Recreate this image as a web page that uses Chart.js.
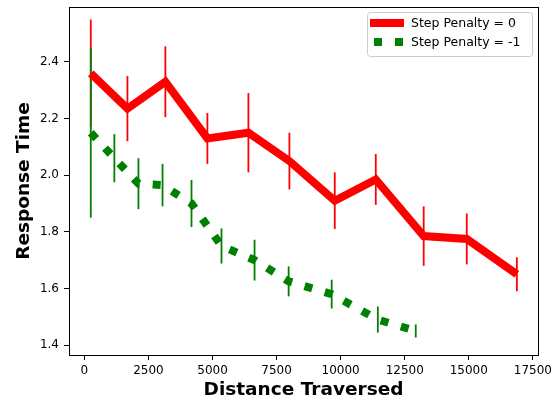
<!DOCTYPE html>
<html>
<head>
<meta charset="utf-8">
<script src="https://cdn.jsdelivr.net/npm/chart.js@4"></script>
<style>
    html, body { margin: 0; padding: 0; background: #fff; }
    canvas { display: block; }
</style>
</head>
<body>
<canvas id="chart" width="560" height="402"></canvas>
<script>
// Datos
const redX   = [250, 1680, 3160, 4800, 6400, 8000, 9770, 11370, 13240, 14920, 16875];
const redY   = [2.36, 2.235, 2.33, 2.13, 2.15, 2.05, 1.91, 1.985, 1.785, 1.775, 1.65];
const redErr = [0.19, 0.115, 0.125, 0.09, 0.14, 0.10, 0.10, 0.09, 0.105, 0.09, 0.06];

const greenX   = [250, 1170, 2110, 3050, 4180, 5350, 6640, 7970, 9650, 11450, 12930];
const greenY   = [2.15, 2.06, 1.97, 1.965, 1.90, 1.75, 1.70, 1.625, 1.58, 1.49, 1.45];
const greenErr = [0.30, 0.085, 0.09, 0.075, 0.083, 0.062, 0.072, 0.053, 0.051, 0.046, 0.023];

const seriesLabels = ['Step Penalty = 0', 'Step Penalty = -1'];
const xTicks = [0, 2500, 5000, 7500, 10000, 12500, 15000, 17500];
const yTicks = [1.4, 1.6, 1.8, 2.0, 2.2, 2.4];

const RED = '#ff0000';
const GREEN = '#008000';
const FONT = 'DejaVu Sans';

const toPoints = (xs, ys) => xs.map((x, i) => ({ x, y: ys[i] }));

// barras de error verticales (sin tapas)
const errorBars = {
    id: 'errorBars',
    beforeDatasetsDraw(chart) {
        const { ctx, scales: { x, y } } = chart;
        const sets = [
            { xs: redX, ys: redY, err: redErr, color: RED },
            { xs: greenX, ys: greenY, err: greenErr, color: GREEN }
        ];
        ctx.save();
        ctx.lineWidth = 1.8;
        sets.forEach(s => {
            ctx.strokeStyle = s.color;
            s.xs.forEach((xv, i) => {
                const px = x.getPixelForValue(xv);
                ctx.beginPath();
                ctx.moveTo(px, y.getPixelForValue(s.ys[i] + s.err[i]));
                ctx.lineTo(px, y.getPixelForValue(s.ys[i] - s.err[i]));
                ctx.stroke();
            });
        });
        ctx.restore();
    }
};

// marco completo + leyenda estilo matplotlib
const frameAndLegend = {
    id: 'frameAndLegend',
    afterDraw(chart) {
        const { ctx, chartArea: a } = chart;
        ctx.save();
        ctx.strokeStyle = '#000';
        ctx.lineWidth = 1;
        ctx.strokeRect(Math.round(a.left) + 0.5, Math.round(a.top) + 0.5,
            Math.round(a.right - a.left), Math.round(a.bottom - a.top));

        // leyenda
        const bx = 367.5, by = 12.5, bw = 165, bh = 44, r = 3;
        ctx.beginPath();
        ctx.moveTo(bx + r, by);
        ctx.arcTo(bx + bw, by, bx + bw, by + bh, r);
        ctx.arcTo(bx + bw, by + bh, bx, by + bh, r);
        ctx.arcTo(bx, by + bh, bx, by, r);
        ctx.arcTo(bx, by, bx + bw, by, r);
        ctx.closePath();
        ctx.fillStyle = 'rgba(255,255,255,0.8)';
        ctx.fill();
        ctx.strokeStyle = '#cccccc';
        ctx.stroke();

        const rows = [
            { y: 23, color: RED, dash: [] },
            { y: 42, color: GREEN, dash: [8, 13] }
        ];
        rows.forEach((row, i) => {
            ctx.beginPath();
            ctx.setLineDash(row.dash);
            ctx.lineCap = 'butt';
            ctx.lineWidth = 8;
            ctx.strokeStyle = row.color;
            ctx.moveTo(i === 0 ? 370 : 374, row.y);
            ctx.lineTo(404, row.y);
            ctx.stroke();
            ctx.setLineDash([]);
            ctx.fillStyle = '#000';
            ctx.font = `12.5px "${FONT}"`;
            ctx.textBaseline = 'middle';
            ctx.textAlign = 'left';
            ctx.fillText(seriesLabels[i], 411, row.y + 1);
        });
        ctx.restore();
    }
};

new Chart(document.getElementById('chart'), {
    type: 'line',
    data: {
        datasets: [
            {
                label: seriesLabels[0],
                data: toPoints(redX, redY),
                borderColor: RED,
                borderWidth: 8,
                borderJoinStyle: 'miter',
                pointRadius: 0,
                fill: false,
                tension: 0,
                order: 2
            },
            {
                label: seriesLabels[1],
                data: toPoints(greenX, greenY),
                borderColor: GREEN,
                borderWidth: 8,
                borderDash: [8, 13],
                borderCapStyle: 'butt',
                pointRadius: 0,
                fill: false,
                tension: 0,
                order: 1
            }
        ]
    },
    options: {
        responsive: false,
        animation: false,
        devicePixelRatio: 1,
        layout: { padding: { left: 0, top: 7, right: 22, bottom: 0 } },
        plugins: {
            legend: { display: false },
            tooltip: { enabled: false }
        },
        scales: {
            x: {
                type: 'linear',
                min: -600,
                max: 17700,
                afterBuildTicks: s => { s.ticks = xTicks.map(v => ({ value: v })); },
                afterFit: s => { s.height = 47; },
                ticks: {
                    color: '#000',
                    font: { family: FONT, size: 12 },
                    padding: 4,
                    maxRotation: 0,
                    autoSkip: false,
                    callback: v => String(v)
                },
                grid: { drawOnChartArea: false, drawTicks: true, tickLength: 5, color: '#000' },
                border: { display: false },
                title: {
                    display: true,
                    text: 'Distance Traversed',
                    color: '#000',
                    font: { family: FONT, size: 18.5, weight: 'bold' },
                    padding: { top: 0, bottom: 1 }
                }
            },
            y: {
                min: 1.365,
                max: 2.594,
                afterBuildTicks: s => { s.ticks = yTicks.map(v => ({ value: v })); },
                afterFit: s => { s.width = 69; s.paddingTop = 0; s.paddingBottom = 0; },
                ticks: {
                    color: '#000',
                    font: { family: FONT, size: 12 },
                    padding: 5,
                    autoSkip: false,
                    callback: v => v.toFixed(1)
                },
                grid: { drawOnChartArea: false, drawTicks: true, tickLength: 5, color: '#000' },
                border: { display: false },
                title: {
                    display: true,
                    text: 'Response Time',
                    color: '#000',
                    font: { family: FONT, size: 18.5, weight: 'bold' },
                    padding: { top: 13, bottom: 0 }
                }
            }
        }
    },
    plugins: [errorBars, frameAndLegend]
});
</script>
</body>
</html>
